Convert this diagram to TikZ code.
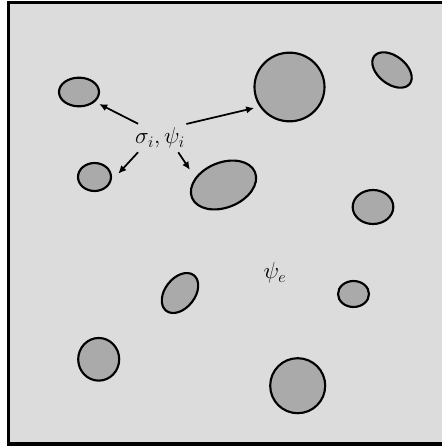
\documentclass[tikz,border=0pt]{standalone}
\usepackage{tikz}
\usetikzlibrary{shapes.geometric, arrows.meta}
\usepackage{amsmath,amssymb}
\definecolor{matrixgray}{RGB}{220,220,220}
\definecolor{grainfill}{RGB}{170,170,170}
\tikzstyle{grain}      = [ellipse, draw=black, line width=1.6pt, fill=grainfill,
                          inner sep=0pt, outer sep=0pt]
\tikzstyle{arrow}      = [line width=1.3pt,->,>={Latex[length=6pt,width=5.5pt]}]
\tikzstyle{phase}      = [font=\fontsize{18}{21}\selectfont, inner sep=1pt]

\begin{document}
\begin{tikzpicture}[x=0.75pt, y=-0.75pt]
  \useasboundingbox (0,0) rectangle (442,446);
  \clip (0,0) rectangle (442,446);
  \fill[white] (0,0) rectangle (442,446);
  \draw[line width=2.6pt, fill=matrixgray] (8.5,2.5) rectangle (448,444);

  % inclusions
  \node[grain, minimum width=30pt, minimum height=21.5pt] (e1) at (79,92) {};
  \node[grain, minimum width=24.75pt, minimum height=21pt] (e2) at (94.5,177) {};
  \node[grain, minimum width=51pt, minimum height=33.75pt, rotate=22] (e3) at (223.5,185) {};
  \node[grain, minimum width=52.5pt, minimum height=51.5pt] (e4) at (289.5,87) {};
  \node[grain, minimum width=33.75pt, minimum height=21pt, rotate=-38] (e5) at (392,70) {};
  \node[grain, minimum width=30.5pt, minimum height=25.5pt] (e6) at (373,207) {};
  \node[grain, minimum width=23.25pt, minimum height=19.5pt] (e7) at (353.5,294) {};
  \node[grain, minimum width=33.75pt, minimum height=22.5pt, rotate=52] (e8) at (180,293) {};
  \node[grain, minimum width=30.75pt, minimum height=32pt] (e9) at (98.7,359.3) {};
  \node[grain, minimum width=41.25pt, minimum height=41.25pt] (e10) at (297.7,385.7) {};

  % phase labels
  \node[phase, minimum height=21pt] (inc) at (160,138) {$\sigma_i,\psi_i$};
  \node[phase] (mat) at (275,273) {$\psi_e$};

  \draw[arrow, shorten >=4.3pt] (inc.147.5) -- (e1.-32);
  \draw[arrow, shorten >=5pt] (inc.28) -- (e4.214);
  \draw[arrow, shorten >=10.5pt] (inc.213.7) -- (e2.-26);
  \draw[arrow, shorten >=7.9pt] (inc.322) -- (e3.145);
\end{tikzpicture}
\end{document}
